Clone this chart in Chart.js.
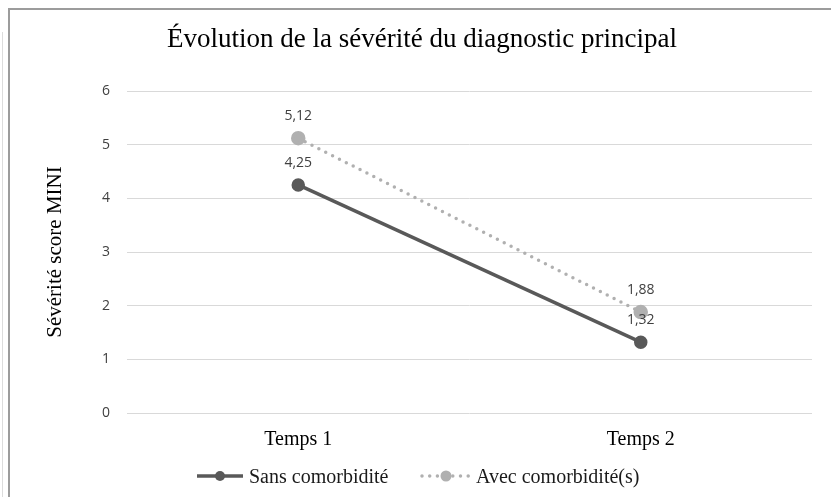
<!DOCTYPE html>
<html>
<head>
<meta charset="utf-8">
<script src="https://cdn.jsdelivr.net/npm/chart.js@4"></script>
<style>
  body { margin: 0; background: #fff; }
  canvas { display: block; }
</style>
</head>
<body>
<canvas id="chart" width="831" height="497"></canvas>
<script>
const categories = ["Temps 1", "Temps 2"];
const sansComorbidite = [4.25, 1.32];
const avecComorbidite = [5.12, 1.88];
const yTicks = [0, 1, 2, 3, 4, 5, 6];

const titleText = "Évolution de la sévérité du diagnostic principal";
const serif = "'Liberation Serif', 'Times New Roman', serif";
const sans = "'Open Sans', 'Noto Sans', sans-serif";
const darkGrey = "#595959";
const lightGrey = "#b0b0b0";

function fmt(v) {
    return v.toFixed(2).replace(".", ",");
}

// frame, title, value labels and legend drawn by hand (Excel look)
const decorPlugin = {
    id: "decor",
    afterDraw(chart) {
        const ctx = chart.ctx;
        ctx.save();

        // frame
        ctx.strokeStyle = "#9c9c9c";
        ctx.lineWidth = 2;
        ctx.beginPath();
        ctx.moveTo(9, 497);
        ctx.lineTo(9, 9);
        ctx.lineTo(831, 9);
        ctx.stroke();
        ctx.strokeStyle = "#dcdcdc";
        ctx.lineWidth = 1;
        ctx.beginPath();
        ctx.moveTo(2.5, 32);
        ctx.lineTo(2.5, 497);
        ctx.stroke();

        // title
        ctx.fillStyle = "#000";
        ctx.font = "27px " + serif;
        ctx.textAlign = "center";
        ctx.textBaseline = "alphabetic";
        ctx.fillText(titleText, 422, 47);

        // value labels
        ctx.font = "14px " + sans;
        ctx.fillStyle = "#404040";
        ctx.textBaseline = "middle";
        chart.data.datasets.forEach((ds, i) => {
            chart.getDatasetMeta(i).data.forEach((pt, j) => {
                ctx.fillText(fmt(ds.data[j]), pt.x, pt.y - 22);
            });
        });

        // legend
        const items = [
            { ds: chart.data.datasets[0], x0: 197, x1: 243, label: "Sans comorbidité" },
            { ds: chart.data.datasets[1], x0: 422, x1: 470, label: "Avec comorbidité(s)" }
        ];
        const ly = 476;
        items.forEach(it => {
            ctx.strokeStyle = it.ds.borderColor;
            ctx.lineWidth = it.ds.borderWidth;
            ctx.lineCap = it.ds.borderDash.length ? "round" : "butt";
            ctx.setLineDash(it.ds.borderDash);
            ctx.beginPath();
            ctx.moveTo(it.x0, ly);
            ctx.lineTo(it.x1, ly);
            ctx.stroke();
            ctx.setLineDash([]);
            ctx.fillStyle = it.ds.pointBackgroundColor;
            ctx.beginPath();
            ctx.arc((it.x0 + it.x1) / 2, ly, it.ds.pointRadius, 0, Math.PI * 2);
            ctx.fill();
            ctx.fillStyle = "#1a1a1a";
            ctx.font = "20px " + serif;
            ctx.textAlign = "left";
            ctx.textBaseline = "middle";
            ctx.fillText(it.label, it.x1 + 6, ly + 2);
        });

        ctx.restore();
    }
};

new Chart(document.getElementById("chart").getContext("2d"), {
    type: "line",
    data: {
        labels: categories,
        datasets: [
            {
                label: "Sans comorbidité",
                data: sansComorbidite,
                borderColor: darkGrey,
                backgroundColor: darkGrey,
                pointBackgroundColor: darkGrey,
                pointBorderColor: darkGrey,
                borderWidth: 3.5,
                borderDash: [],
                pointRadius: 5,
                fill: false,
                tension: 0
            },
            {
                label: "Avec comorbidité(s)",
                data: avecComorbidite,
                borderColor: lightGrey,
                backgroundColor: lightGrey,
                pointBackgroundColor: lightGrey,
                pointBorderColor: lightGrey,
                borderWidth: 3.5,
                borderDash: [0, 7.7],
                borderCapStyle: "round",
                pointRadius: 5.5,
                fill: false,
                tension: 0
            }
        ]
    },
    options: {
        responsive: false,
        animation: false,
        layout: { padding: { top: 91, left: 10, right: 19, bottom: 44 } },
        plugins: {
            legend: { display: false },
            title: { display: false },
            tooltip: { enabled: false }
        },
        scales: {
            x: {
                offset: true,
                grid: { display: false, drawTicks: false },
                border: { display: false },
                ticks: { color: "#000", font: { family: serif, size: 20 }, padding: 15 },
                afterFit: s => { s.height = 40; }
            },
            y: {
                min: yTicks[0],
                max: yTicks[yTicks.length - 1],
                afterBuildTicks: s => { s.ticks = yTicks.map(v => ({ value: v })); },
                grid: { color: "#d9d9d9", lineWidth: 1, drawTicks: false },
                border: { display: false },
                ticks: { color: "#404040", font: { family: sans, size: 14 }, padding: 17 },
                title: {
                    display: true,
                    text: "Sévérité score MINI",
                    color: "#000",
                    font: { family: serif, size: 21 },
                    padding: { top: 33, bottom: 0 }
                },
                afterFit: s => { s.width = 117; }
            }
        }
    },
    plugins: [decorPlugin]
});
</script>
</body>
</html>
